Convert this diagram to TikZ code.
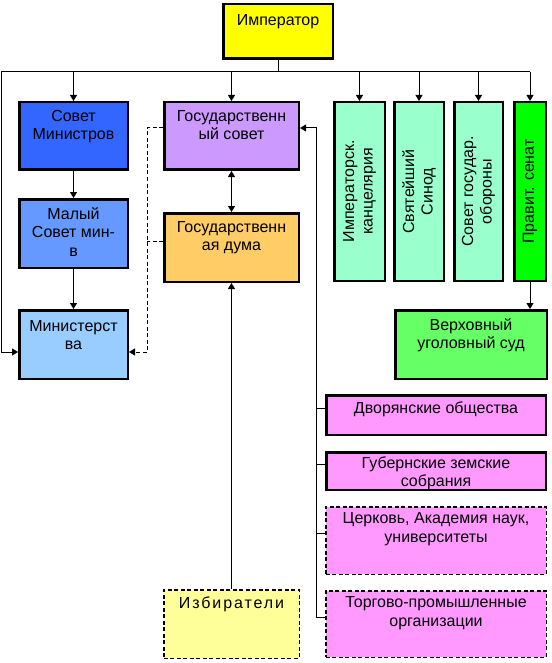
\documentclass[tikz,border=0pt]{standalone}
\usepackage{fontspec}
\setmainfont{Liberation Sans}
\newfontfamily\spacedfont[LetterSpace=12]{Liberation Sans}
\usetikzlibrary{arrows.meta, positioning}

\definecolor{impyellow}{HTML}{FFFF00}
\definecolor{sovblue}{HTML}{3366FF}
\definecolor{malblue}{HTML}{6699FF}
\definecolor{minblue}{HTML}{99CCFF}
\definecolor{gsviolet}{HTML}{CC99FF}
\definecolor{dumaorange}{HTML}{FFCC66}
\definecolor{mint}{HTML}{99FFCC}
\definecolor{senatgreen}{HTML}{00FF00}
\definecolor{verkhgreen}{HTML}{66FF66}
\definecolor{orgpink}{HTML}{FF99FF}
\definecolor{izbyellow}{HTML}{FFFF99}

% lines of a box, baseline on the first one
\newcommand{\toplines}[1]{\begin{tabular}[t]{@{}c@{}}#1\end{tabular}}

\begin{document}
\begin{tikzpicture}[
      x=1pt, y=1pt,
      font=\fontsize{16pt}{18.5pt}\selectfont,
      box/.style={draw, line width=2.5pt, inner sep=0pt, text height=19pt},
      dbox/.style={box, line width=1.5pt, dash pattern=on 4pt off 2.5pt},
      vbox/.style={draw, line width=2.5pt, inner sep=0pt, align=center,
        rotate=90, minimum width=178.5pt, fill=mint},
      line/.style={line width=1pt},
      arr/.style={line, -{Triangle[length=6pt, width=7pt]}},
      dblarr/.style={line, {Triangle[length=6pt, width=7pt]}-{Triangle[length=6pt, width=7pt]}},
      dline/.style={line, dash pattern=on 4pt off 2.5pt},
      node distance=27pt
    ]
    \useasboundingbox (0,0) rectangle (551,-663);

    \node[box, fill=impyellow, minimum width=109.5pt, text height=21pt, text depth=33.5pt]
      (imp) at (278,-31.5) {Император};

    % left column
    \node[box, fill=sovblue, minimum width=108.5pt, text depth=48.5pt]
      (smin) at (73.5,-136) {\toplines{Совет\\Министров}};
    \node[box, fill=malblue, minimum width=108.5pt, text height=20pt, text depth=48.5pt, below=of smin]
      (malyi) {\toplines{Малый\\Совет мин-\\в}};
    \node[box, fill=minblue, minimum width=108.5pt, text height=21pt, text depth=47.5pt, below=40pt of malyi]
      (minist) {\toplines{Министерст\\ва}};

    % middle column
    \node[box, fill=gsviolet, minimum width=134.5pt, text depth=48.5pt, right=34pt of smin]
      (gsov) {\toplines{Государственн\\ый совет}};
    \node[box, fill=dumaorange, minimum width=134.5pt, text depth=49.5pt, below=41pt of gsov]
      (gduma) {\toplines{Государственн\\ая дума}};
    \node[dbox, fill=izbyellow, minimum width=135.5pt, text height=19pt, text depth=49.5pt]
      (izb) at (231.5,-624) {\spacedfont Избиратели};

    % right column
    \node[vbox, minimum height=50.5pt] (kanc) at (359.5,-191.5) {Императорск.\\канцелярия};
    \node[vbox, minimum height=49.5pt] (sinod) at (419,-191.5) {Святейший\\Синод};
    \node[vbox, minimum height=48.5pt] (obor) at (478.5,-191.5) {Совет государ.\\обороны};
    \node[vbox, minimum height=31.5pt, fill=senatgreen] (senat) at (530,-191.5) {Правит. сенат};
    \node[box, fill=verkhgreen, minimum width=151.5pt, text height=20pt, text depth=48.5pt]
      (verkh) at (471,-344.5) {\toplines{Верховный\\уголовный суд}};

    \node[box, fill=orgpink, minimum width=219.5pt, text height=18pt, text depth=21.5pt]
      (dvor) at (436,-415) {Дворянские общества};
    \node[box, fill=orgpink, minimum width=219.5pt, text height=16pt, text depth=21.5pt, below=15pt of dvor]
      (gub) {\toplines{Губернские земские\\собрания}};
    \node[dbox, fill=orgpink, minimum width=220.5pt, text height=17pt, text depth=50.5pt, below=15pt of gub]
      (cerk) {\toplines{Церковь, Академия наук,\\университеты}};
    \node[dbox, fill=orgpink, minimum width=220.5pt, text height=17pt, text depth=49.5pt, below=15pt of cerk]
      (torg) {\toplines{Торгово-промышленные\\организации}};

    % connectors
    \coordinate (busl) at (1,-72);
    \coordinate (busr) at (530,-72);
    \draw[line] (imp) -- (imp |- busl);
    \draw[line] (busl) -- (busr);
    \foreach \n in {smin, gsov, kanc, sinod, obor, senat}
      \draw[arr] (\n |- busl) -- (\n);
    \draw[arr] (busl) |- ([yshift=-7.5pt]minist.west);
    \draw[arr] (smin) -- (malyi);
    \draw[arr] (malyi) -- (minist);
    \draw[dblarr] (gsov) -- (gduma);
    \draw[arr] (izb) -- (gduma);
    \draw[arr] (senat) -- (senat |- verkh.north);

    \draw[dline, -{Triangle[length=6pt, width=7pt]}] ([yshift=8pt]gsov.west) -- ++(-16,0)
      |- ([yshift=-7.5pt]minist.east);
    \draw[dline] ([yshift=6.5pt]gduma.west) -- ++(-16,0);

    \draw[arr] ([yshift=7pt]torg.west) -- ++(-9,0) |- ([yshift=8pt]gsov.east);
    \foreach \n in {dvor, gub, cerk}
      \draw[line] ([yshift=7pt]\n.west) -- ++(-9,0);
  \end{tikzpicture}
\end{document}
